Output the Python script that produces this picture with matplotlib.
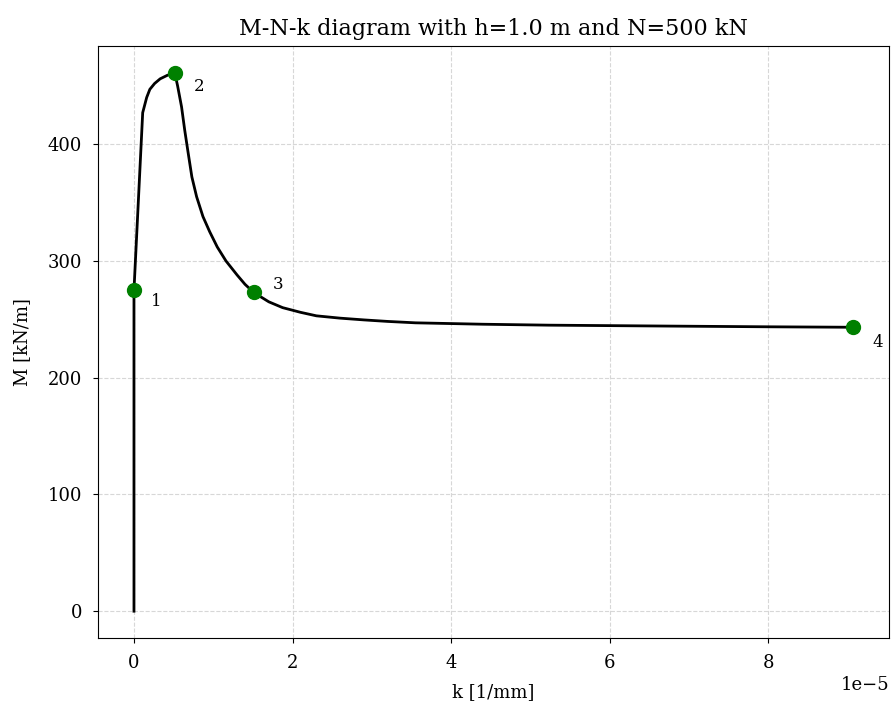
import matplotlib.pyplot as plt

plt.rcParams['font.family'] = ['DejaVu Serif']

# curvature k [1e-5 1/mm] and moment M [kN/m]
k = [0.0, 0.0, 0.0, 0.11, 0.16, 0.2, 0.26, 0.33, 0.42, 0.515, 0.55, 0.6, 0.64, 0.68,
     0.73, 0.79, 0.87, 0.955, 1.05, 1.16, 1.3, 1.4, 1.51, 1.7, 1.875, 2.1, 2.3,
     2.6, 2.9, 3.2, 3.55, 4.4, 5.23, 6.0, 6.77, 8.0, 9.07]
M = [0.0, 150.0, 275.0, 427.0, 440.0, 447.0, 452.0, 456.0, 459.0, 461.0, 450.0, 432.0, 412.0, 394.0,
     372.0, 355.0, 338.0, 325.0, 312.0, 300.0, 288.0, 280.0, 273.0, 265.0, 260.0, 256.0, 253.0,
     251.0, 249.5, 248.2, 247.0, 245.8, 245.0, 244.6, 244.2, 243.6, 243.2]

pt_k = [0.0, 0.515, 1.51, 9.07]
pt_M = [275.0, 461.0, 273.0, 243.5]
pt_labels = ['1', '2', '3', '4']
pt_offsets = [(12, -8), (14, -10), (14, 6), (14, -11)]

fig, ax = plt.subplots(figsize=(8.91, 7.09), dpi=100)
ax.plot([v * 1e-5 for v in k], M, color='black', lw=2)
ax.plot([v * 1e-5 for v in pt_k], pt_M, 'o', color='green', ms=10, zorder=3)
for x, y, lab, off in zip(pt_k, pt_M, pt_labels, pt_offsets):
    ax.annotate(lab, (x * 1e-5, y), xytext=off, textcoords='offset points',
                fontsize=12, va='center')

ax.set_title('M-N-k diagram with h=1.0 m and N=500 kN', fontsize=16, pad=8)
ax.set_xlabel('k [1/mm]', fontsize=13, labelpad=8)
ax.set_ylabel('M [kN/m]', fontsize=13, labelpad=12)
ax.tick_params(labelsize=13, pad=8)
ax.xaxis.get_offset_text().set_fontsize(13)
ax.grid(True, linestyle='--', color='lightgray', alpha=0.9)

fig.subplots_adjust(left=0.11, right=0.998, top=0.935, bottom=0.1)
fig.savefig('out.png')
